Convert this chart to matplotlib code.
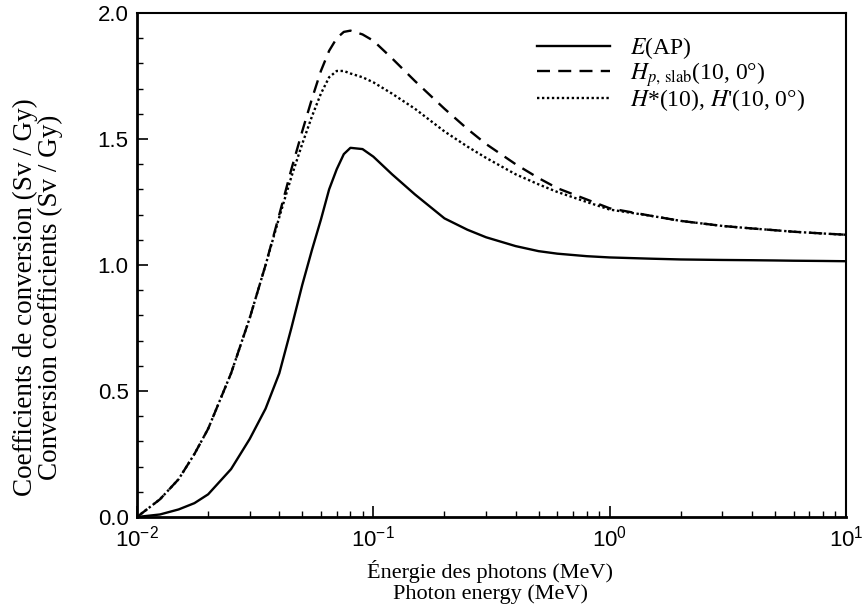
import matplotlib
matplotlib.use("Agg")
import matplotlib.pyplot as plt
from matplotlib.ticker import LogLocator, MultipleLocator, NullFormatter

# ---- data ----
energy = [0.010, 0.0125, 0.015, 0.0175, 0.02, 0.025, 0.03, 0.035, 0.04, 0.045,
          0.05, 0.055, 0.06, 0.065, 0.07, 0.075, 0.08, 0.09, 0.10, 0.12, 0.15,
          0.20, 0.25, 0.30, 0.40, 0.50, 0.60, 0.80, 1.0, 1.5, 2.0, 3.0, 4.0,
          5.0, 6.0, 8.0, 10.0]

e_ap = [0.0, 0.01, 0.03, 0.055, 0.09, 0.19, 0.31, 0.43, 0.57, 0.75,
        0.92, 1.06, 1.18, 1.30, 1.38, 1.44, 1.465, 1.46, 1.43, 1.36, 1.28,
        1.185, 1.14, 1.11, 1.075, 1.055, 1.045, 1.035, 1.03, 1.025, 1.022, 1.02, 1.019,
        1.018, 1.017, 1.016, 1.015]

hp_slab = [0.0, 0.07, 0.15, 0.25, 0.35, 0.57, 0.79, 1.00, 1.20, 1.38,
           1.53, 1.66, 1.77, 1.85, 1.90, 1.925, 1.93, 1.915, 1.89, 1.82, 1.73,
           1.62, 1.54, 1.48, 1.40, 1.345, 1.305, 1.26, 1.225, 1.195, 1.175, 1.155, 1.145,
           1.138, 1.132, 1.125, 1.12]

h_star = [0.0, 0.07, 0.15, 0.25, 0.35, 0.57, 0.79, 1.00, 1.19, 1.35,
          1.48, 1.59, 1.68, 1.745, 1.77, 1.77, 1.76, 1.745, 1.725, 1.68, 1.62,
          1.53, 1.47, 1.425, 1.36, 1.32, 1.29, 1.25, 1.22, 1.195, 1.175, 1.155, 1.145,
          1.138, 1.132, 1.125, 1.12]

labels = [r"$E$(AP)", r"$H_{p,\,\mathrm{slab}}$(10, 0°)", r"$H$*(10), $H$'(10, 0°)"]
y_ticks = [0.0, 0.5, 1.0, 1.5, 2.0]

plt.rcParams['mathtext.fontset'] = 'stix'
serif = ['Liberation Serif', 'DejaVu Serif']
sans = ['Liberation Sans', 'DejaVu Sans']

W, H = 868, 610
fig = plt.figure(figsize=(W/100, H/100), dpi=100)
L, R, T, B = 137, 846, 13, 517
ax = fig.add_axes([L/W, 1 - B/H, (R-L)/W, (B-T)/H])

ax.plot(energy, e_ap, color='black', lw=1.7, ls='-', label=labels[0])
ax.plot(energy, hp_slab, color='black', lw=1.7, ls=(0, (5.5, 3.5)), label=labels[1])
ax.plot(energy, h_star, color='black', lw=1.7, ls=(0, (1, 1.1)), label=labels[2])

ax.set_xscale('log')
ax.set_xlim(0.01, 10)
ax.set_ylim(0, 2.0)

ax.set_yticks(y_ticks)
ax.set_yticklabels([f"{v:.1f}" for v in y_ticks], family=sans, fontsize=16)
ax.yaxis.set_minor_locator(MultipleLocator(0.1))
ax.xaxis.set_major_locator(LogLocator(base=10, numticks=10))
ax.xaxis.set_minor_locator(LogLocator(base=10, subs=range(2, 10), numticks=20))
ax.xaxis.set_minor_formatter(NullFormatter())
for t in ax.get_xticklabels():
    t.set_family(sans)
    t.set_fontsize(16)

ax.tick_params(axis='both', which='major', direction='in', length=8, width=1.2,
               top=False, right=False)
ax.tick_params(axis='both', which='minor', direction='in', length=4, width=1.0,
               top=False, right=False)
ax.tick_params(axis='y', which='major', pad=6)
ax.tick_params(axis='x', which='major', pad=6)

for s in ax.spines.values():
    s.set_linewidth(1.5)
ax.spines['left'].set_linewidth(2.0)
ax.spines['bottom'].set_linewidth(2.0)

fig.text(490/W, 1 - 582/H, "Énergie des photons (MeV)\nPhoton energy (MeV)",
         family=serif, fontsize=16, linespacing=1.12, ha='center', va='center',
         multialignment='center')
fig.text(38/W, 1 - 297/H,
         "Coefficients de conversion (Sv / Gy)\nConversion coefficients (Sv / Gy)",
         family=serif, fontsize=19.5, linespacing=0.95, ha='center', va='center',
         rotation=90, multialignment='center')

leg = ax.legend(loc='upper left', bbox_to_anchor=((537-L)/(R-L), (B-35)/(B-T)),
                frameon=False, borderpad=0, borderaxespad=0,
                handlelength=3.1, handletextpad=0.85, labelspacing=-0.05,
                prop={'family': serif, 'size': 17})

fig.savefig('out.png', dpi=100)
